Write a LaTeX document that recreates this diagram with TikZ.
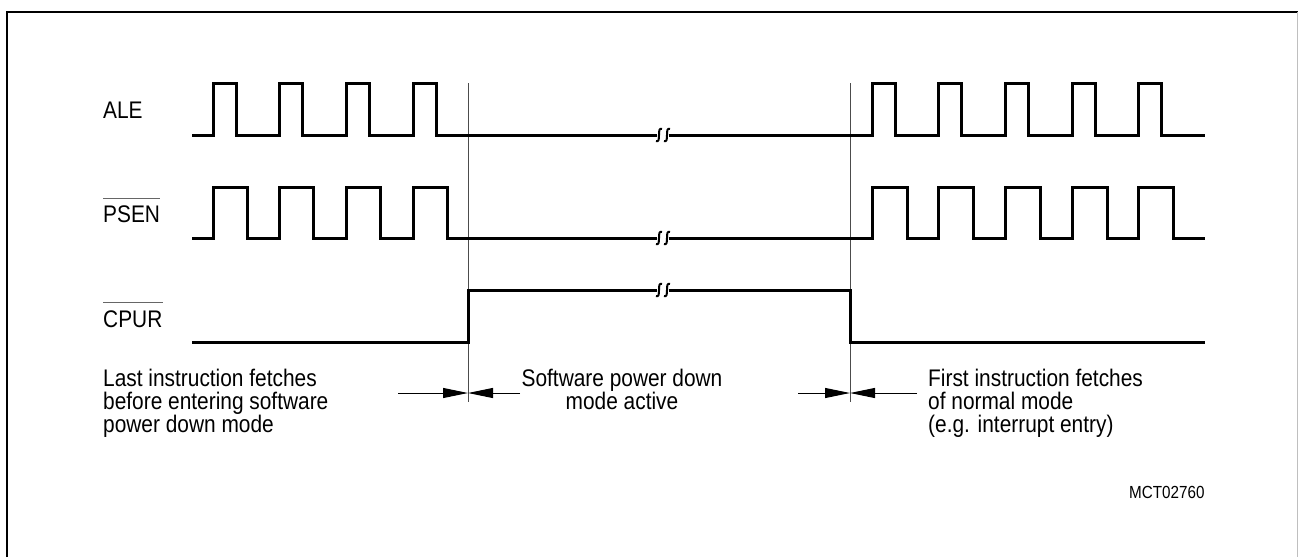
\documentclass[tikz,border=0pt]{standalone}
\usepackage{fontspec}
\setmainfont{Liberation Sans}[FakeStretch=0.87]
\usetikzlibrary{arrows.meta,calc}
\begin{document}
\begin{tikzpicture}[x=1pt,y=-1pt,
  sig/.style={line width=3pt,line join=miter},
  guide/.style={line width=1pt,black!70},
  dimline/.style={line width=1pt,-{Triangle[length=25pt,width=10pt]}},
  lbl/.style={inner sep=0pt,anchor=base west,font=\fontsize{24}{24}\selectfont},
  ctr/.style={inner sep=0pt,anchor=base,font=\fontsize{24}{24}\selectfont},
  ovl/.style={line width=1pt,black!60},
  brk/.style={line width=2pt}]
\useasboundingbox (0,0) rectangle (1298,557);
% frame
\draw[line width=2pt] (7,557) -- (7,12) -- (1298,12);
\draw[line width=1pt,black!25] (1297,12) -- (1297,557);

% coordinates of the guide lines
\coordinate (g1top) at (468,83);
\coordinate (g1bot) at (468,402);
\coordinate (g2top) at (850,83);
\coordinate (g2bot) at (850,402);
\draw[guide] (g1top) -- (g1bot);
\draw[guide] (g2top) -- (g2bot);

% ALE
\draw[sig] (192,135) foreach \r in {213,279,346,413}{ -- (\r,135) -- (\r,83) -- ({\r+23},83) -- ({\r+23},135)} -- (657,135);
\draw[sig] (669,135) foreach \r in {872,938,1005,1072,1138}{ -- (\r,135) -- (\r,83) -- ({\r+23},83) -- ({\r+23},135)} -- (1205,135);
% PSEN
\draw[sig] (192,238) foreach \r in {213,279,346,413}{ -- (\r,238) -- (\r,187) -- ({\r+34},187) -- ({\r+34},238)} -- (657,238);
\draw[sig] (669,238) foreach \r in {872,938,1005,1072,1138}{ -- (\r,238) -- (\r,187) -- ({\r+35},187) -- ({\r+35},238)} -- (1205,238);
% CPUR
\draw[sig] (192,342) -- (468,342) -- (468,290) -- (657,290);
\draw[sig] (669,290) -- (850,290) -- (850,342) -- (1205,342);

% break marks
\foreach \y in {135,238,290}{
  \foreach \x in {659,667}{
    \draw[brk] (\x-3,\y+6) .. controls (\x-0.5,\y+7) and (\x,\y+5) .. (\x,\y)
               .. controls (\x,\y-5) and (\x+0.5,\y-7) .. (\x+3,\y-6);
  }
}

% labels
\node[lbl] (ale) at (103,118) {ALE};
\node[lbl] (psen) at (103,222) {PSEN};
\node[lbl] (cpur) at (103,327) {CPUR};
\draw[ovl] ($(psen.base west)+(0,-24)$) -- ($(psen.base east)+(0,-24)$);
\draw[ovl] ($(cpur.base west)+(0,-25)$) -- ($(cpur.base east)+(0,-25)$);

% dimension arrows
\coordinate (d1l) at (398,393);
\coordinate (d1r) at (520,393);
\coordinate (d1m) at (468,393);
\coordinate (d2l) at (798,393);
\coordinate (d2r) at (917,393);
\coordinate (d2m) at (850,393);
\draw[dimline] (d1l) -- (d1m);
\draw[dimline] (d1r) -- (d1m);
\draw[dimline] (d2l) -- (d2m);
\draw[dimline] (d2r) -- (d2m);

% texts
\node[lbl] (t1a) at (103,386) {Last instruction fetches};
\node[lbl] (t1b) at (103,409) {before entering software};
\node[lbl] (t1c) at (103,432) {power down mode};
\node[ctr] (t2a) at (622,386) {Software power down};
\node[ctr] (t2b) at (622,409) {mode active};
\node[lbl] (t3a) at (928,386) {First instruction fetches};
\node[lbl] (t3b) at (928,409) {of normal mode};
\node[lbl] (t3c) at (928,432) {(e.g. interrupt entry)};
\node[lbl,font=\fontsize{17.5}{17.5}\selectfont] (id) at (1129,498) {MCT02760};
\end{tikzpicture}
\end{document}
